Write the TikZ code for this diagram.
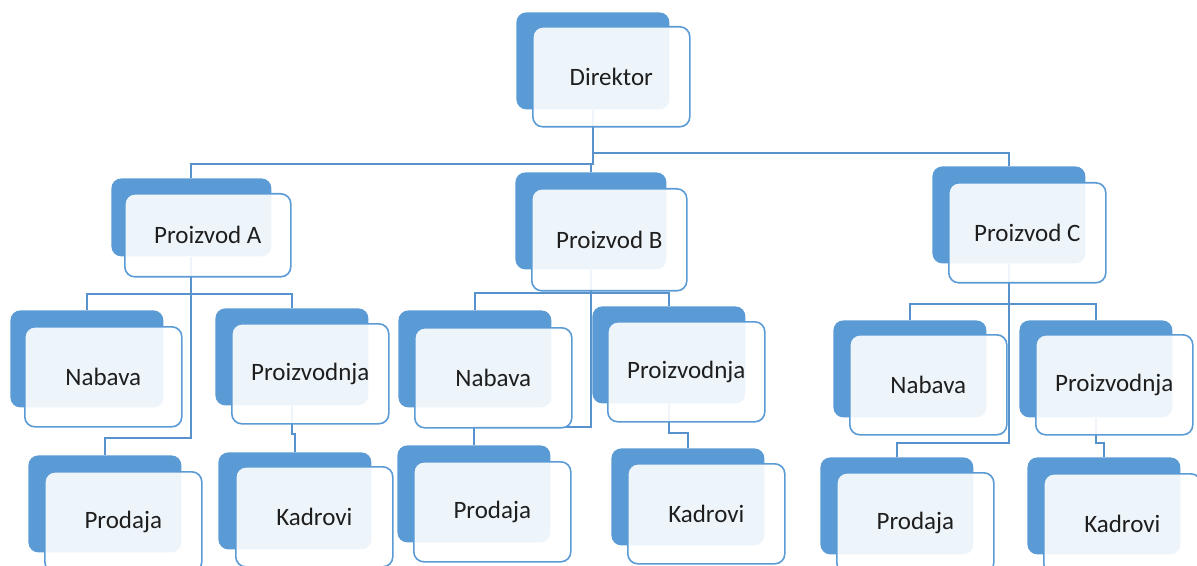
\documentclass[tikz,border=0pt]{standalone}
\usepackage{fontspec}
\setmainfont{Carlito}
\definecolor{blueorg}{RGB}{91,155,213}
\definecolor{lineorg}{RGB}{88,146,205}
\definecolor{textorg}{RGB}{30,30,30}

\begin{document}
\begin{tikzpicture}[x=0.5pt, y=-0.5pt,
	boxback/.style={fill=blueorg, rounded corners=5pt, inner sep=0pt, anchor=north west,
		minimum width=76.5pt, minimum height=48.5pt},
	boxfront/.style={draw=blueorg, line width=0.8pt, fill=white, fill opacity=0.9, text opacity=1,
		rounded corners=5pt, inner sep=0pt, anchor=north west, text=textorg,
		minimum width=78.5pt, minimum height=50pt, font=\fontsize{12.5}{15}\selectfont},
	link/.style={draw=lineorg, line width=1pt}]
	\useasboundingbox (0, 0) rectangle (1197, 566);
	\clip (0, 0) rectangle (1197, 566);
	% Boites de fond
	\node[boxback] (dir) at (516, 12) {};
	\node[boxback, minimum width=80pt, minimum height=39pt] (pa) at (111, 178) {};
	\node[boxback, minimum width=75.5pt] (pb) at (515, 172) {};
	\node[boxback] (pc) at (932, 166) {};
	\node[boxback] (na) at (10, 310) {};
	\node[boxback] (pra) at (215, 308) {};
	\node[boxback] (proa) at (28, 455) {};
	\node[boxback] (ka) at (218, 452) {};
	\node[boxback] (nb) at (398, 310) {};
	\node[boxback] (prb) at (592, 306) {};
	\node[boxback] (prob) at (397, 445) {};
	\node[boxback] (kb) at (611, 448) {};
	\node[boxback] (nc) at (833, 320) {};
	\node[boxback] (prc) at (1019, 320) {};
	\node[boxback] (proc) at (820, 457) {};
	\node[boxback] (kc) at (1027, 457) {};
	% Liaisons
	\draw[link] (dir.south) -- ++(0, 43) -| (pc.north);
	\draw[link] (dir.south) -- ++(0, 54) -| (pa.north);
	\draw[link] (dir.south) -- ++(0, 54) -| (pb.north);
	\draw[link] (pa.south) -- ++(0, 37) -| (na.north);
	\draw[link] (pa.south) -- ++(0, 37) -| (pra.north);
	\draw[link] (pa.south) -- ++(0, 181) -| (proa.north);
	\draw[link] (pra.south) -- ++(0, 28) -| (ka.north);
	\draw[link] (pb.south) -- ++(0, 23) -| (nb.north);
	\draw[link] (pb.south) -- ++(0, 23) -| (prb.north);
	\draw[link] (pb.south) -- ++(0, 157) -| (prob.north);
	\draw[link] (prb.south) -- ++(0, 29) -| (kb.north);
	\draw[link] (pc.south) -- ++(0, 40) -| (nc.north);
	\draw[link] (pc.south) -- ++(0, 40) -| (prc.north);
	\draw[link] (pc.south) -- ++(0, 179) -| (proc.north);
	\draw[link] (prc.south) -- ++(0, 25) -| (kc.north);
	% Boites de texte
	\node[boxfront] (dirF) at (532, 26) {Direktor};
	\node[boxfront, minimum width=83pt, minimum height=41.5pt] (paF) at (124, 193) {Proizvod A};
	\node[boxfront, minimum width=77.5pt, minimum height=51pt] (pbF) at (531, 188) {Proizvod B};
	\node[boxfront] (pcF) at (948, 182) {Proizvod C};
	\node[boxfront] (naF) at (24, 326) {Nabava};
	\node[boxfront] (praF) at (231, 323) {Proizvodnja};
	\node[boxfront] (proaF) at (44, 471) {Prodaja};
	\node[boxfront] (kaF) at (235, 466) {Kadrovi};
	\node[boxfront] (nbF) at (414, 327) {Nabava};
	\node[boxfront] (prbF) at (607, 321) {Proizvodnja};
	\node[boxfront] (probF) at (413, 461) {Prodaja};
	\node[boxfront] (kbF) at (627, 463) {Kadrovi};
	\node[boxfront] (ncF) at (849, 334) {Nabava};
	\node[boxfront] (prcF) at (1035, 334) {Proizvodnja};
	\node[boxfront] (procF) at (836, 472) {Prodaja};
	\node[boxfront] (kcF) at (1043, 473) {Kadrovi};
\end{tikzpicture}
\end{document}
